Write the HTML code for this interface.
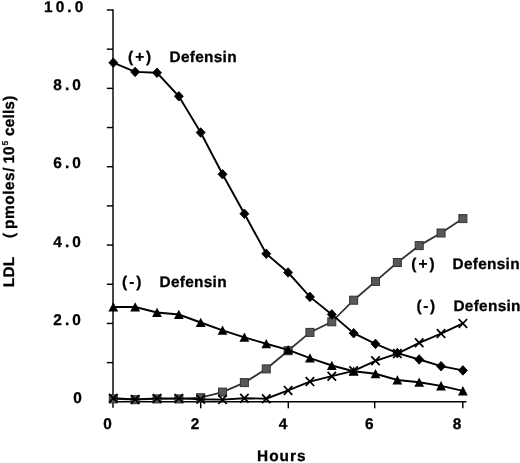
<!DOCTYPE html>
<html lang="en"><head><meta charset="utf-8"><title>LDL vs Hours</title>
<style>html,body{margin:0;padding:0;background:#fff}svg{display:block}</style></head>
<body>
<svg width="520" height="463" viewBox="0 0 520 463">
<rect width="520" height="463" fill="#fff"/>
<g stroke="#000" stroke-width="1.45" fill="none">
<path d="M113 9.2V407.8"/>
<path d="M113 401.8H466.5"/>
<path d="M106.8 362.62H113"/>
<path d="M106.8 323.44H113"/>
<path d="M106.8 284.26H113"/>
<path d="M106.8 245.08H113"/>
<path d="M106.8 205.90H113"/>
<path d="M106.8 166.72H113"/>
<path d="M106.8 127.54H113"/>
<path d="M106.8 88.36H113"/>
<path d="M106.8 49.18H113"/>
<path d="M106.8 10.00H113"/>
<path d="M200.70 401.8V408.3"/>
<path d="M288.30 401.8V408.3"/>
<path d="M374.70 401.8V408.3"/>
<path d="M462.80 401.8V408.3"/>
</g>
<polyline points="113.30,398.90 135.15,399.70 157.00,398.90 178.85,398.90 200.70,397.70 222.55,392.10 244.40,382.60 266.25,368.90 288.10,350.70 309.95,332.40 331.80,321.80 353.65,300.20 375.50,281.40 397.35,262.50 419.20,245.60 441.05,233.00 462.90,218.60" fill="none" stroke="#333" stroke-width="1.8"/>
<g fill="#585858" stroke="#333" stroke-width="1">
<rect x="109.30" y="394.90" width="8" height="8"/>
<rect x="131.15" y="395.70" width="8" height="8"/>
<rect x="153.00" y="394.90" width="8" height="8"/>
<rect x="174.85" y="394.90" width="8" height="8"/>
<rect x="196.70" y="393.70" width="8" height="8"/>
<rect x="218.55" y="388.10" width="8" height="8"/>
<rect x="240.40" y="378.60" width="8" height="8"/>
<rect x="262.25" y="364.90" width="8" height="8"/>
<rect x="284.10" y="346.70" width="8" height="8"/>
<rect x="305.95" y="328.40" width="8" height="8"/>
<rect x="327.80" y="317.80" width="8" height="8"/>
<rect x="349.65" y="296.20" width="8" height="8"/>
<rect x="371.50" y="277.40" width="8" height="8"/>
<rect x="393.35" y="258.50" width="8" height="8"/>
<rect x="415.20" y="241.60" width="8" height="8"/>
<rect x="437.05" y="229.00" width="8" height="8"/>
<rect x="458.90" y="214.60" width="8" height="8"/>
</g>
<polyline points="113.30,307.00 135.15,307.00 157.00,312.50 178.85,314.50 200.70,322.50 222.55,330.30 244.40,337.30 266.25,343.75 288.10,349.80 309.95,358.10 331.80,365.50 353.65,371.20 375.50,373.80 397.35,380.00 419.20,382.20 441.05,385.90 462.90,390.90" fill="none" stroke="#000" stroke-width="1.9"/>
<g fill="#000">
<path d="M113.30 302.20L118.20 311.50H108.40Z"/>
<path d="M135.15 302.20L140.05 311.50H130.25Z"/>
<path d="M157.00 307.70L161.90 317.00H152.10Z"/>
<path d="M178.85 309.70L183.75 319.00H173.95Z"/>
<path d="M200.70 317.70L205.60 327.00H195.80Z"/>
<path d="M222.55 325.50L227.45 334.80H217.65Z"/>
<path d="M244.40 332.50L249.30 341.80H239.50Z"/>
<path d="M266.25 338.95L271.15 348.25H261.35Z"/>
<path d="M288.10 345.00L293.00 354.30H283.20Z"/>
<path d="M309.95 353.30L314.85 362.60H305.05Z"/>
<path d="M331.80 360.70L336.70 370.00H326.90Z"/>
<path d="M353.65 366.40L358.55 375.70H348.75Z"/>
<path d="M375.50 369.00L380.40 378.30H370.60Z"/>
<path d="M397.35 375.20L402.25 384.50H392.45Z"/>
<path d="M419.20 377.40L424.10 386.70H414.30Z"/>
<path d="M441.05 381.10L445.95 390.40H436.15Z"/>
<path d="M462.90 386.10L467.80 395.40H458.00Z"/>
</g>
<polyline points="113.30,398.30 135.15,399.40 157.00,398.40 178.85,398.40 200.70,399.30 222.55,399.60 244.40,398.20 266.25,398.70 288.10,390.40 309.95,381.60 331.80,376.20 353.65,370.80 375.50,360.80 397.35,353.60 419.20,342.80 441.05,333.60 462.90,323.40" fill="none" stroke="#000" stroke-width="1.9"/>
<g stroke="#000" stroke-width="1.8" fill="none">
<path d="M109.10 393.90L117.50 402.70M117.50 393.90L109.10 402.70"/>
<path d="M130.95 395.00L139.35 403.80M139.35 395.00L130.95 403.80"/>
<path d="M152.80 394.00L161.20 402.80M161.20 394.00L152.80 402.80"/>
<path d="M174.65 394.00L183.05 402.80M183.05 394.00L174.65 402.80"/>
<path d="M196.50 394.90L204.90 403.70M204.90 394.90L196.50 403.70"/>
<path d="M218.35 395.20L226.75 404.00M226.75 395.20L218.35 404.00"/>
<path d="M240.20 393.80L248.60 402.60M248.60 393.80L240.20 402.60"/>
<path d="M262.05 394.30L270.45 403.10M270.45 394.30L262.05 403.10"/>
<path d="M283.90 386.00L292.30 394.80M292.30 386.00L283.90 394.80"/>
<path d="M305.75 377.20L314.15 386.00M314.15 377.20L305.75 386.00"/>
<path d="M327.60 371.80L336.00 380.60M336.00 371.80L327.60 380.60"/>
<path d="M349.45 366.40L357.85 375.20M357.85 366.40L349.45 375.20"/>
<path d="M371.30 356.40L379.70 365.20M379.70 356.40L371.30 365.20"/>
<path d="M393.15 349.20L401.55 358.00M401.55 349.20L393.15 358.00"/>
<path d="M415.00 338.40L423.40 347.20M423.40 338.40L415.00 347.20"/>
<path d="M436.85 329.20L445.25 338.00M445.25 329.20L436.85 338.00"/>
<path d="M458.70 319.00L467.10 327.80M467.10 319.00L458.70 327.80"/>
</g>
<polyline points="113.30,62.70 135.15,71.90 157.00,72.80 178.85,96.25 200.70,132.50 222.55,174.25 244.40,213.75 266.25,253.75 288.10,272.50 309.95,296.90 331.80,314.40 353.65,333.20 375.50,343.90 397.35,353.10 419.20,359.50 441.05,366.20 462.90,370.40" fill="none" stroke="#000" stroke-width="1.9"/>
<g fill="#000" stroke="#000" stroke-width="0.8" stroke-linejoin="round">
<path d="M113.30 57.90L117.80 62.70L113.30 67.50L108.80 62.70Z"/>
<path d="M135.15 67.10L139.65 71.90L135.15 76.70L130.65 71.90Z"/>
<path d="M157.00 68.00L161.50 72.80L157.00 77.60L152.50 72.80Z"/>
<path d="M178.85 91.45L183.35 96.25L178.85 101.05L174.35 96.25Z"/>
<path d="M200.70 127.70L205.20 132.50L200.70 137.30L196.20 132.50Z"/>
<path d="M222.55 169.45L227.05 174.25L222.55 179.05L218.05 174.25Z"/>
<path d="M244.40 208.95L248.90 213.75L244.40 218.55L239.90 213.75Z"/>
<path d="M266.25 248.95L270.75 253.75L266.25 258.55L261.75 253.75Z"/>
<path d="M288.10 267.70L292.60 272.50L288.10 277.30L283.60 272.50Z"/>
<path d="M309.95 292.10L314.45 296.90L309.95 301.70L305.45 296.90Z"/>
<path d="M331.80 309.60L336.30 314.40L331.80 319.20L327.30 314.40Z"/>
<path d="M353.65 328.40L358.15 333.20L353.65 338.00L349.15 333.20Z"/>
<path d="M375.50 339.10L380.00 343.90L375.50 348.70L371.00 343.90Z"/>
<path d="M397.35 348.30L401.85 353.10L397.35 357.90L392.85 353.10Z"/>
<path d="M419.20 354.70L423.70 359.50L419.20 364.30L414.70 359.50Z"/>
<path d="M441.05 361.40L445.55 366.20L441.05 371.00L436.55 366.20Z"/>
<path d="M462.90 365.60L467.40 370.40L462.90 375.20L458.40 370.40Z"/>
</g>
<g font-family="'Liberation Sans', sans-serif" font-weight="700" font-size="15.4px" fill="#000" stroke="#000" stroke-width="0.3" text-rendering="geometricPrecision">
<text x="44.0" y="11.9" letter-spacing="3.1">10.0</text>
<text x="53.3" y="90.2" letter-spacing="3.1">8.0</text>
<text x="53.3" y="168.4" letter-spacing="3.1">6.0</text>
<text x="53.3" y="247.1" letter-spacing="3.1">4.0</text>
<text x="53.3" y="324.8" letter-spacing="3.1">2.0</text>
<text x="73.2" y="402.8" letter-spacing="3.1">0</text>
<text x="107.60" y="429.3" text-anchor="middle">0</text>
<text x="195.10" y="429.3" text-anchor="middle">2</text>
<text x="283.10" y="429.3" text-anchor="middle">4</text>
<text x="369.20" y="429.3" text-anchor="middle">6</text>
<text x="457.00" y="429.3" text-anchor="middle">8</text>
<text x="257" y="461.0" letter-spacing="1.05">Hours</text>
<text x="128" y="61.7" letter-spacing="2">(+)</text>
<text x="169.5" y="61.7" letter-spacing="0.3">Defensin</text>
<text x="122" y="287" letter-spacing="2">(-)</text>
<text x="159.5" y="287" letter-spacing="0.3">Defensin</text>
<text x="411.3" y="269.2" letter-spacing="2">(+)</text>
<text x="452.5" y="269.2" letter-spacing="0.3">Defensin</text>
<text x="416.4" y="310.5" letter-spacing="1.7">(-)</text>
<text x="453.4" y="310.5" letter-spacing="0.3">Defensin</text>
<text transform="translate(13.7 287.2) rotate(-90)" letter-spacing="0.2">LDL</text>
<text transform="translate(13.7 237.9) rotate(-90)" letter-spacing="0">(</text>
<text transform="translate(13.7 229.0) rotate(-90)" letter-spacing="0.55">pmoles/</text>
<text transform="translate(13.7 163.6) rotate(-90)" letter-spacing="0">10</text>
<text transform="translate(13.7 145.6) rotate(-90)" letter-spacing="0" font-size="8.5px" dy="-5.8" stroke-width="0.15">5</text>
<text transform="translate(13.7 135.9) rotate(-90)" letter-spacing="0.15">cells</text>
<text transform="translate(13.7 100.8) rotate(-90)" letter-spacing="0">)</text>
</g>
</svg>
</body></html>
